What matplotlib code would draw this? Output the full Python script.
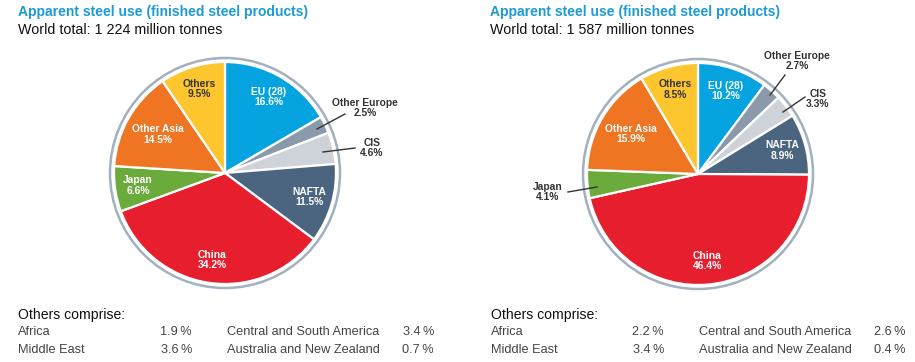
import matplotlib
matplotlib.use("Agg")
import matplotlib.pyplot as plt
from matplotlib.patches import Circle
import numpy as np

W, H = 915, 362

# ---------------- data ----------------
regions = ["EU (28)", "Other Europe", "CIS", "NAFTA", "China", "Japan", "Other Asia", "Others"]
share_left = [16.6, 2.5, 4.6, 11.5, 34.2, 6.6, 14.5, 9.5]
share_right = [10.2, 2.7, 3.3, 8.9, 46.4, 4.1, 15.9, 8.5]
total_left = "1 224"
total_right = "1 587"
others_names = ["Africa", "Middle East", "Central and South America", "Australia and New Zealand"]
others_left = [1.9, 3.6, 3.4, 0.7]
others_right = [2.2, 3.4, 2.6, 0.4]

colors = ["#05a4e1", "#8a9aab", "#cdd3d9", "#4b6581", "#e61e2e", "#6aab3b", "#ef7523", "#fdc62f"]
label_colors = ["white", "#333333", "#333333", "white", "white", "white", "white", "#333333"]

SANS = ["Liberation Sans", "DejaVu Sans"]

fig = plt.figure(figsize=(W / 100, H / 100), dpi=100)
ax = fig.add_axes([0, 0, 1, 1])


def Y(y):
    return H - y


def draw_pie(cx, cy, shares, outside):
    R = 111
    ax.pie(shares, colors=colors, startangle=90, counterclock=False,
           radius=R, center=(cx, Y(cy)),
           wedgeprops=dict(edgecolor="white", linewidth=1.6))
    ax.add_patch(Circle((cx, Y(cy)), 115, fill=False, edgecolor="#a2b1bd", lw=1.8))
    cum = np.cumsum([0] + list(shares))
    dist = {"Other Asia": 0.70}
    for i, (name, v) in enumerate(zip(regions, shares)):
        t = np.deg2rad(360 * (cum[i] + v / 2) / 100)
        txt = f"{name}\n{v:.1f}%"
        if name in outside:
            (sx, sy), (ex, ey), (tx, ty) = outside[name]
            ax.plot([sx, ex], [Y(sy), Y(ey)], color="#333333", lw=1.0)
            ax.text(tx, Y(ty), txt, ha="center", va="center", fontsize=7.4,
                    fontweight="bold", color="#333333", family=SANS, linespacing=1.05)
        else:
            r = dist.get(name, 0.79) * R
            x = cx + r * np.sin(t)
            y = Y(cy) + r * np.cos(t)
            ax.text(x, y, txt, ha="center", va="center", fontsize=7.4,
                    fontweight="bold", color=label_colors[i], family=SANS, linespacing=1.05)


draw_pie(225, 173, share_left, {
    "Other Europe": ((317, 129), (345, 114), (365, 108)),
    "CIS": ((323, 152), (355, 148), (372, 148)),
})
draw_pie(698, 174, share_right, {
    "Other Europe": ((770, 95), (785, 75), (797, 61)),
    "CIS": ((783, 112), (805, 97), (818, 99)),
    "Japan": ((597, 187), (568, 192), (548, 192)),
})


def header(x0, total):
    ax.text(x0, Y(12), "Apparent steel use (finished steel products)", ha="left", va="center",
            fontsize=10, fontweight="bold", color="#1c9ad6", family=SANS)
    ax.text(x0, Y(30), f"World total: {total} million tonnes", ha="left", va="center",
            fontsize=10.3, color="#111111", family=SANS)


def table(x0, xv1, x2, xv2, vals):
    ax.text(x0, Y(315), "Others comprise:", ha="left", va="center", fontsize=10.1,
            color="#111111", family=SANS)
    rows_y = [332, 350]
    for j in range(2):
        ax.text(x0, Y(rows_y[j]), others_names[j], ha="left", va="center", fontsize=9.2,
                color="#444444", family=SANS)
        ax.text(xv1, Y(rows_y[j]), f"{vals[j]:.1f}\u2009%", ha="right", va="center", fontsize=9.2,
                color="#444444", family=SANS)
        ax.text(x2, Y(rows_y[j]), others_names[j + 2], ha="left", va="center", fontsize=9.2,
                color="#444444", family=SANS)
        ax.text(xv2, Y(rows_y[j]), f"{vals[j + 2]:.1f}\u2009%", ha="right", va="center", fontsize=9.2,
                color="#444444", family=SANS)


header(18, total_left)
header(490, total_right)
table(18, 192, 227, 434, others_left)
table(491, 664, 699, 906, others_right)

ax.set_xlim(0, W)
ax.set_ylim(0, H)
ax.set_aspect("equal")
ax.axis("off")
fig.savefig("out.png", dpi=100)
